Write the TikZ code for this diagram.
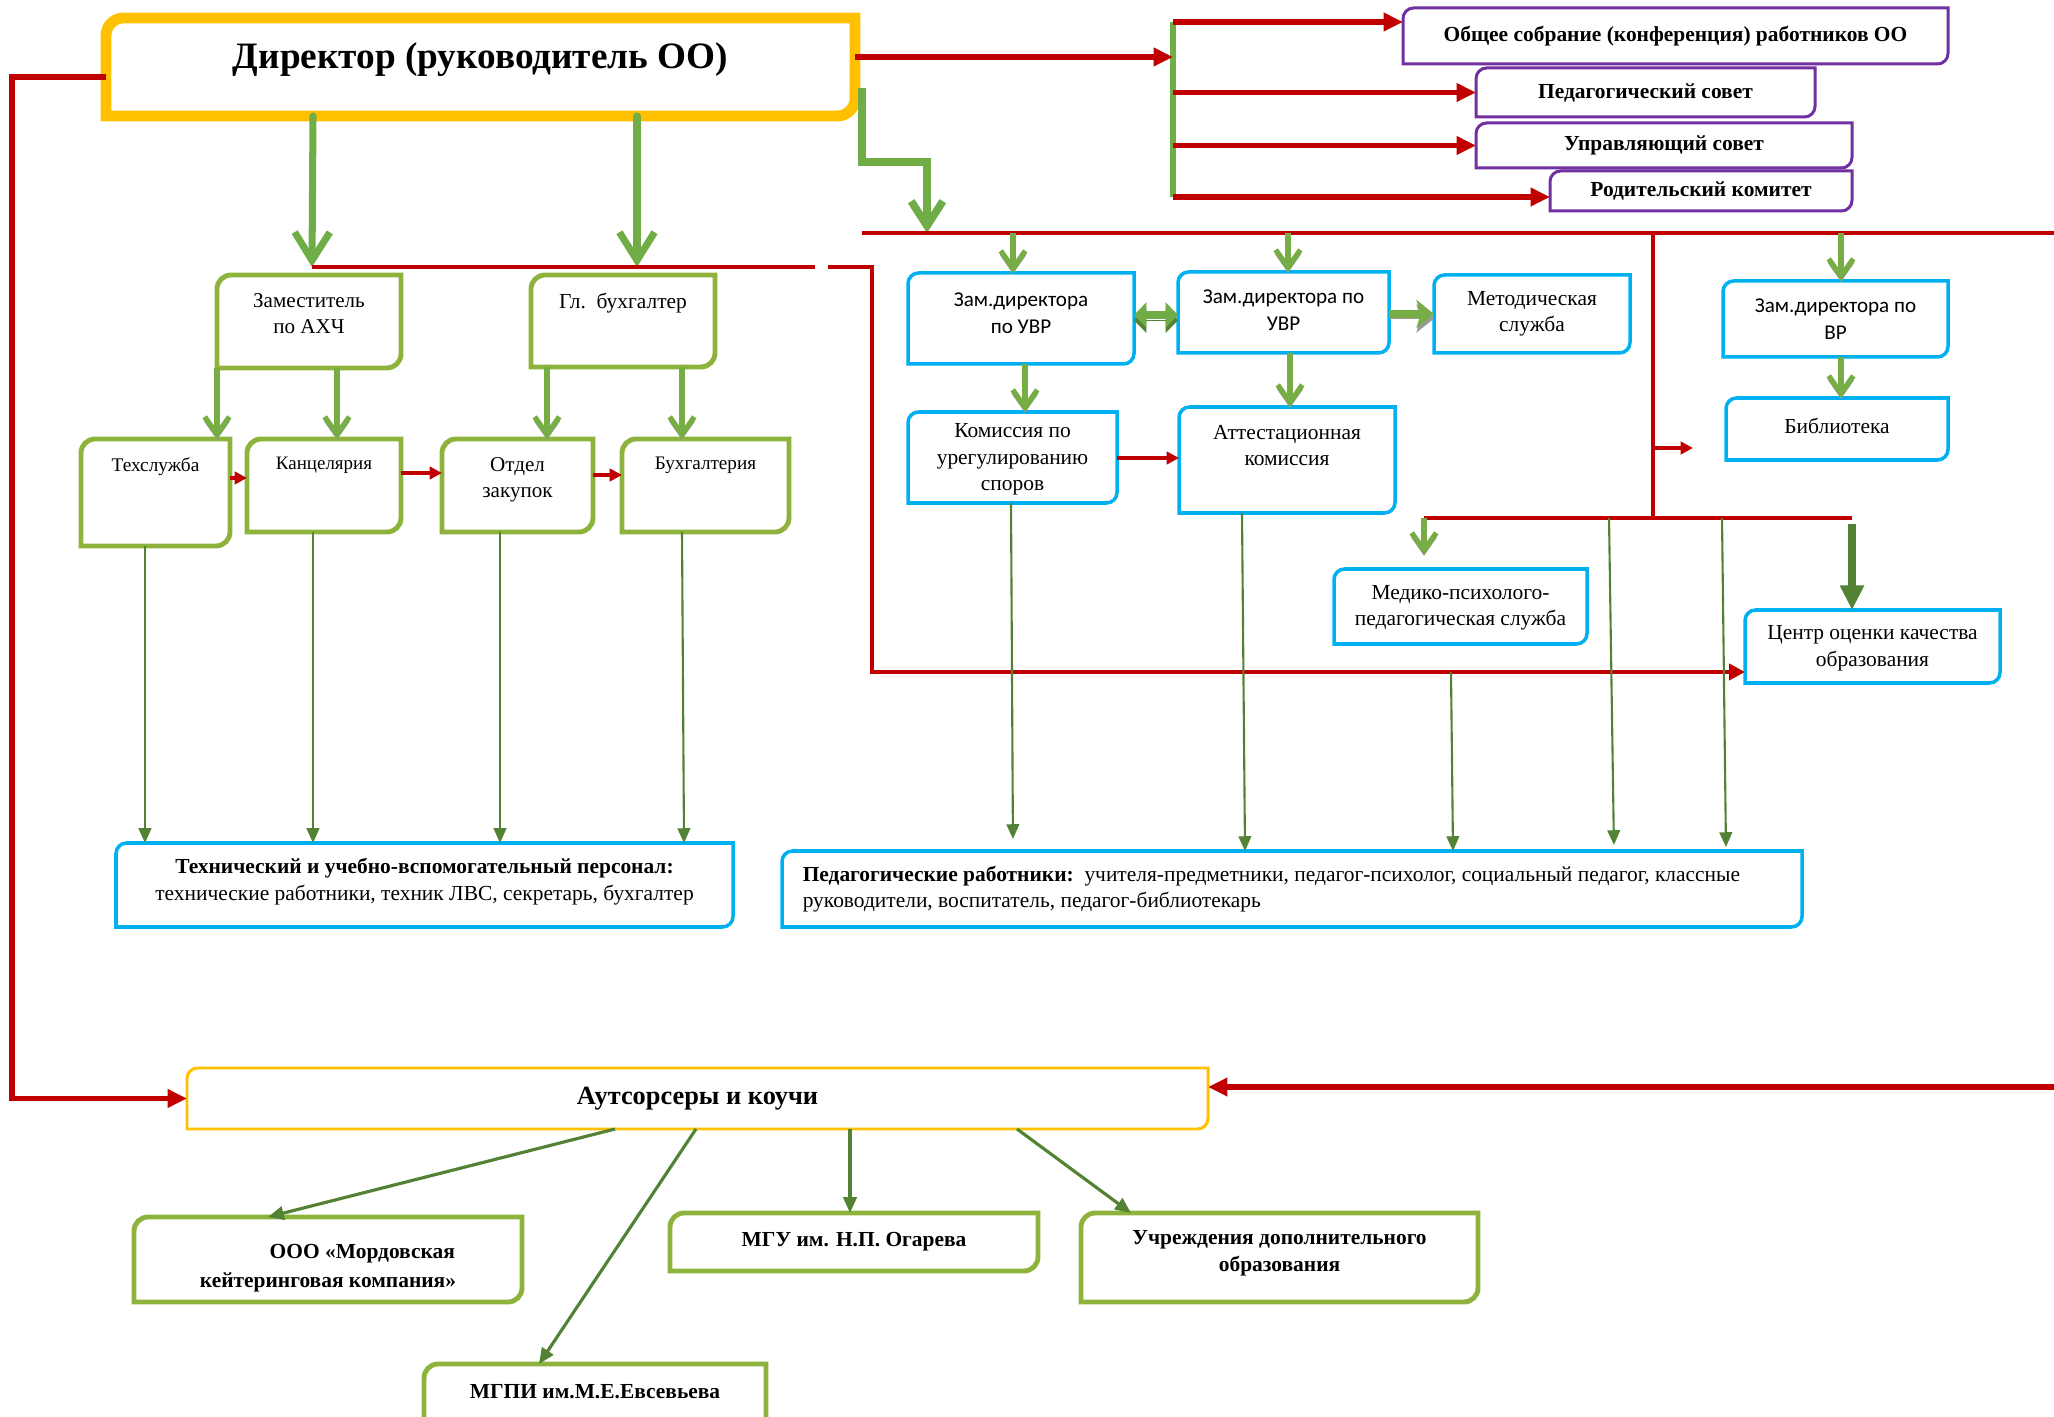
\documentclass[tikz,border=0pt]{standalone}
\usepackage{fontspec}
\setmainfont{Liberation Serif}
\setsansfont{Carlito}
\usetikzlibrary{arrows.meta,calc,fit}
\definecolor{dirY}{HTML}{FFC000}
\definecolor{redL}{HTML}{C00000}
\definecolor{grnL}{HTML}{70AD47}
\definecolor{grnB}{HTML}{8DB33C}
\definecolor{grnD}{HTML}{548235}
\definecolor{bluB}{HTML}{00B0F0}
\definecolor{purB}{HTML}{7030A0}
\tikzset{font=\fontsize{6.1}{7.5}\selectfont}
\tikzset{
  fr/.style={inner sep=0pt, outer sep=0pt},
  tx/.style={inner sep=0pt, align=center, font=\fontsize{6.1}{7.5}\selectfont},
  txb/.style={tx, font=\fontsize{6.1}{7.5}\selectfont\bfseries},
  txs/.style={tx, font=\fontsize{6}{7.7}\selectfont\sffamily},
  top/.style={tx, anchor=north, yshift=-5pt},
  dirtxt/.style={inner sep=0pt, anchor=north, yshift=-6.8pt, font=\fontsize{10.6}{13}\selectfont\bfseries},
  gframe/.style={draw=grnB, line width=1.4pt},
  bframe/.style={draw=bluB, line width=1pt},
  pframe/.style={draw=purB, line width=0.85pt},
  yframe/.style={draw=dirY, line width=0.85pt},
  rline/.style={draw=redL, line width=1.3pt},
  rthick/.style={draw=redL, line width=1.7pt},
  rarr/.style={rthick, -{Triangle[length=5.5pt,width=5pt]}},
  rlarr/.style={rline, -{Triangle[length=4.5pt,width=4.5pt]}},
  rsmall/.style={draw=redL, line width=0.9pt, -{Triangle[length=3.5pt,width=3.5pt]}},
  gbar/.style={draw=grnL, line width=1.7pt},
  gdown/.style={draw=grnL, line width=2pt, line cap=round, -{Straight Barb[length=8pt,width=10pt]}},
  garr/.style={draw=grnL!80!grnB, line width=1.5pt, -{Straight Barb[length=5pt,width=7pt]},
    preaction={draw=gray!80, transform canvas={yshift=-1.2pt}}},
  gfat/.style={draw=grnL!80!grnB, line width=2.2pt, -{Stealth[length=5pt,width=8pt,inset=1.2pt]},
    preaction={draw=gray!80, transform canvas={yshift=-1.3pt}}},
  dbl/.style={draw=grnL, line width=2.2pt, {Triangle[length=3.5pt,width=7pt]}-{Triangle[length=3.5pt,width=7pt]},
    preaction={draw=grnD, transform canvas={yshift=-1.5pt}}},
  dfat/.style={draw=grnD, line width=2.3pt, -{Triangle[length=7pt,width=6.5pt]}},
  dline/.style={draw=grnD, line width=0.6pt, -{Triangle[length=4.2pt,width=3.6pt]}},
  darr/.style={draw=grnD, line width=0.9pt, -{Triangle[length=4.5pt,width=3.8pt]}},
}
% frame with two rounded corners (top left, bottom right)
\newcommand{\rdframe}[3]{%
  \draw[#2] ($(#1.north west)+(0,-#3)$) arc[start angle=180,end angle=90,radius=#3]
    -- (#1.north east) -- ($(#1.south east)+(0,#3)$) arc[start angle=0,end angle=-90,radius=#3]
    -- (#1.south west) -- cycle;}

\begin{document}
\begin{tikzpicture}[x=0.1mm,y=-0.1mm]
  \useasboundingbox (0,0) rectangle (2054,1417);

  % director and councils
  \node[fr, fit={(106,18) (855,116)}, label={[dirtxt]north:{Директор (руководитель ОО)}}] (dir) {};
  \node[fr, fit={(1403,8) (1948,64)}] (gen) {};
  \node[fr, fit={(1476,68) (1815,117)}] (ps) {};
  \node[fr, fit={(1476,123) (1852,168)}] (us) {};
  \node[fr, fit={(1550,171) (1852,211)}] (rk) {};
  \node[txb] (gent) at (gen.center) {Общее собрание (конференция) работников ОО};
  \node[txb] (pst) at (ps.center) {Педагогический совет};
  \node[txb] (ust) at (us.center) {Управляющий совет};
  \node[txb] (rkt) at (rk.center) {Родительский комитет};

  % economic branch
  \node[fr, fit={(217,275) (401,368)}, label={[top, font=\fontsize{6}{7.6}\selectfont]north:{Заместитель\\по АХЧ}}] (zam) {};
  \node[fr, fit={(531,275) (715,367)}, label={[top, font=\fontsize{6.1}{7.6}\selectfont]north:{Гл.\ \ бухгалтер}}] (glb) {};
  \node[fr, fit={(81,439) (230,546)}, label={[top, font=\fontsize{5.5}{7}\selectfont]north:{Техслужба}}] (tex) {};
  \node[fr, fit={(247,439) (401,532)}, label={[top, font=\fontsize{5.4}{7}\selectfont]north:{Канцелярия}}] (kan) {};
  \node[fr, fit={(442,439) (593,532)}, label={[top, font=\fontsize{6}{7.6}\selectfont]north:{Отдел\\закупок}}] (otd) {};
  \node[fr, fit={(622,439) (789,532)}, label={[top, font=\fontsize{5.45}{7}\selectfont]north:{Бухгалтерия}}] (buh) {};

  % educational branch
  \node[fr, fit={(908,273) (1134,364)}] (zu1) {};
  \node[fr, fit={(1178,272) (1389,353)}] (zu2) {};
  \node[fr, fit={(1434,275) (1630,353)}] (met) {};
  \node[fr, fit={(1723,281) (1948,357)}] (zvr) {};
  \node[fr, fit={(1726,398) (1948,460)}] (bib) {};
  \node[fr, fit={(908,412) (1117,503)}] (kom) {};
  \node[fr, fit={(1179,407) (1395,513)}, label={[top]north:{Аттестационная\\комиссия}}] (att) {};
  \node[fr, fit={(1334,569) (1587,644)}] (med) {};
  \node[fr, fit={(1745,610) (2000,683)}] (coc) {};
  \node[txs, yshift=1.5pt] (zu1t) at (zu1.center) {Зам.директора\\по УВР};
  \node[txs, yshift=0.6pt] (zu2t) at (zu2.center) {Зам.директора по\\УВР};
  \node[tx] (mett) at (met.center) {Методическая\\служба};
  \node[txs] (zvrt) at (zvr.center) {Зам.директора по\\ВР};
  \node[tx, yshift=1pt] (bibt) at (bib.center) {Библиотека};
  \node[tx, yshift=-0.6pt] (komt) at (kom.center) {Комиссия по\\урегулированию\\споров};
  \node[tx, yshift=-0.3pt] (medt) at (med.center) {Медико-психолого-\\педагогическая служба};
  \node[tx, yshift=-0.5pt] (coct) at (coc.center) {Центр оценки качества\\образования};

  % staff
  \node[fr, fit={(116,843) (733,927)}] (tuv) {};
  \node[fr, fit={(782,851) (1802,927)}] (ped) {};
  \node[tx, yshift=1pt] (tuvt) at (tuv.center) {\textbf{Технический и учебно-вспомогательный персонал:}\\технические работники, техник ЛВС, секретарь, бухгалтер};
  \node[tx, align=left, anchor=west, xshift=5.7pt] (pedt) at (ped.west) {\textbf{Педагогические работники:}\ \ учителя-предметники, педагог-психолог, социальный педагог, классные\\руководители, воспитатель, педагог-библиотекарь};

  % outsourcing
  \node[fr, fit={(187,1068) (1208,1129)}] (out) {};
  \node[fr, fit={(134,1217) (522,1302)}] (ooo) {};
  \node[fr, fit={(670,1213) (1038,1271)}] (mgu) {};
  \node[fr, fit={(1081,1213) (1478,1302)}] (uch) {};
  \node[fr, fit={(424,1364) (766,1440)}] (mgpi) {};
  \node[txb, font=\fontsize{7.5}{9}\selectfont\bfseries] (outt) at (out.center) {Аутсорсеры и коучи};
  \node[txb, yshift=-2.5pt] (ooot) at (ooo.center) {\hspace*{3.2em}ООО «Мордовская\\[0.6pt]кейтеринговая компания»};
  \node[txb] (mgut) at (mgu.center) {МГУ им. Н.П. Огарева};
  \node[txb, yshift=1.2pt] (ucht) at (uch.center) {Учреждения дополнительного\\образования};
  \node[txb, yshift=-8pt] (mgpit) at (mgpi.north) {МГПИ им.М.Е.Евсевьева};

  % frames
  \rdframe{dir}{draw=dirY, line width=3.1pt}{5pt}
  \foreach \n in {gen,ps,us,rk} {\rdframe{\n}{pframe}{3pt}}
  \foreach \n in {zam,glb,tex,kan,otd,buh,ooo,mgu,uch,mgpi} {\rdframe{\n}{gframe}{4pt}}
  \foreach \n in {zu1,zu2,met,zvr,bib,kom,att,med,coc,tuv,ped} {\rdframe{\n}{bframe}{3pt}}
  \rdframe{out}{yframe}{3pt}

  % helper points
  \coordinate (bt) at (1173,22);
  \coordinate (bb) at (1173,197);
  \coordinate (dr) at ([xshift=2pt]dir.east);
  \coordinate (tl) at (862,233);
  \coordinate (tr) at (2054,233);
  \coordinate (ra) at (312,267);
  \coordinate (rb) at (815,267);
  \coordinate (rc) at (828,267);
  \coordinate (rbot) at (872,672);
  \coordinate (hl) at (1424,518);
  \coordinate (hv) at (1653,518);
  \coordinate (hr) at (1852,518);
  \coordinate (hs) at (1693,448);
  \coordinate (rr) at (2054,1087);

  % councils
  \draw[gbar] (bt) -- (bb);
  \draw[rarr] (dir.east |- 0,57) -- (bt |- 0,57);
  \draw[rarr] (bt) -- (gen.west |- bt);
  \draw[rarr] (bt |- ps.west) -- (ps.west);
  \draw[rarr] (bt |- us.west) -- (us.west);
  \draw[rarr] (bb) -- (rk.west |- bb);

  % director to outsourcing
  \draw[rthick, -{Triangle[length=5.5pt,width=5pt]}] (dir.west |- 0,77) -- (12,77) |- (out.west);
  \draw[rarr] (rr) -- (out.east |- rr);

  % economic branch
  \draw[gdown] (313,0 |- dir.south) -- (ra);
  \draw[gdown] (637,0 |- dir.south) -- (637,0 |- ra);
  \draw[rline] (ra) -- (rb);
  \draw[rlarr] (rc) -| (rbot) -- (coc.west |- rbot);
  \draw[garr] (217,0 |- zam.south) -- (217,0 |- tex.north);
  \draw[garr] (337,0 |- zam.south) -- (337,0 |- kan.north);
  \draw[garr] (547,0 |- glb.south) -- (547,0 |- otd.north);
  \draw[garr] (682,0 |- glb.south) -- (682,0 |- buh.north);
  \draw[rsmall] (tex.east |- 0,478) -- (kan.west |- 0,478);
  \draw[rsmall] (kan.east |- 0,473) -- (otd.west |- 0,473);
  \draw[rsmall] (otd.east |- 0,475) -- (buh.west |- 0,475);
  \draw[dline] (145,0 |- tex.south) -- (145,0 |- tuv.north);
  \draw[dline] (313,0 |- kan.south) -- (313,0 |- tuv.north);
  \draw[dline] (500,0 |- otd.south) -- (500,0 |- tuv.north);
  \draw[dline] (682,0 |- buh.south) -- (684,0 |- tuv.north);

  % educational branch
  \draw[draw=grnL, line width=2.2pt, -{Straight Barb[length=7pt,width=9pt]}] (dr |- 0,88) |- (927,162) -- (927,0 |- tl);
  \draw[rline, line width=1.4pt] (tl) -- (tr);
  \draw[garr] (1013,0 |- tl) -- (1013,0 |- zu1.north);
  \draw[garr] (1288,0 |- tl) -- (1288,0 |- zu2.north);
  \draw[garr] (1841,0 |- tl) -- (1841,0 |- zvr.north);
  \draw[dbl] (zu1.east |- 0,315) -- (zu2.west |- 0,315);
  \draw[gfat] (zu2.east |- 0,314) -- (met.west |- 0,314);
  \draw[garr] (1025,0 |- zu1.south) -- (1025,0 |- kom.north);
  \draw[garr] (1290,0 |- zu2.south) -- (1290,0 |- att.north);
  \draw[garr] (1841,0 |- zvr.south) -- (1841,0 |- bib.north);
  \draw[rsmall] (kom.east |- 0,458) -- (att.west |- 0,458);
  \draw[rline] (1653,0 |- tl) -- (hv);
  \draw[rline] (hl) -- (hr);
  \draw[rsmall] (hs -| hv) -- (hs);
  \draw[garr, shorten >=1.4mm] (hl) -- (hl |- med.north);
  \draw[dfat] (hr |- 0,524) -- (hr |- coc.north);

  % to pedagogical staff
  \draw[dline, shorten >=1.2mm] (1011,0 |- kom.south) -- (1013,0 |- ped.north);
  \draw[dline] (1242,0 |- att.south) -- (1245,0 |- ped.north);
  \draw[dline] (1451,0 |- rbot) -- (1453,0 |- ped.north);
  \draw[dline, shorten >=0.6mm] (1609,0 |- hv) -- (1614,0 |- ped.north);
  \draw[dline, shorten >=0.4mm] (1722,0 |- hv) -- (1726,0 |- ped.north);

  % outsourcing
  \draw[darr] (615,0 |- out.south) -- (268,0 |- ooo.north);
  \draw[darr] (696,0 |- out.south) -- (539,0 |- mgpi.north);
  \draw[darr] (850,0 |- out.south) -- (850,0 |- mgu.north);
  \draw[darr] (1017,0 |- out.south) -- (1131,0 |- uch.north);
\end{tikzpicture}
\end{document}
